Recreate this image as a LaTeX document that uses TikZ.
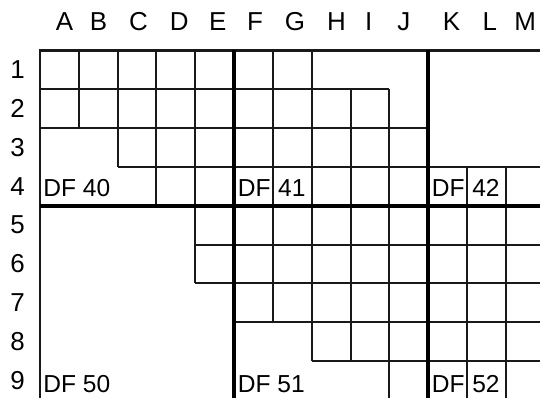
\documentclass[tikz,border=0pt]{standalone}
\usepackage{fontspec}
\setmainfont{Liberation Sans}

\begin{document}
\begin{tikzpicture}[
        thin line/.style={draw=black!90, line width=1.4pt},
        thick line/.style={draw=black, line width=3pt},
        head/.style={font=\fontsize{19}{21}\selectfont, inner sep=0pt},
        df/.style={font=\fontsize{18}{20}\selectfont, inner sep=0pt, anchor=base west}
    ]
    \useasboundingbox (-1.03,1.30) rectangle (12.88,-8.95);
    \clip (-1.03,1.30) rectangle (12.88,-8.95);

    % --- Column and row labels ---
    \foreach \c/\x in {A/0.63, B/1.51, C/2.54, D/3.59, E/4.58, F/5.54, G/6.57,
                       H/7.64, I/8.47, J/9.37, K/10.6, L/11.59, M/12.5}
        \node[head, anchor=base] (col\c) at (\x,0.52) {\c};
    \foreach \r in {1,...,9}
        \node[head] (row\r) at (-0.58,0.5-\r) {\r};

    % --- Thin cell lines ---
    % 横线
    \draw[thin line] (0,-1) -- (9,-1);
    \draw[thin line] (0,-2) -- (10,-2);
    \draw[thin line] (2,-3) -- (13,-3);
    \draw[thin line] (4,-5) -- (13,-5);
    \draw[thin line] (4,-6) -- (13,-6);
    \draw[thin line] (5,-7) -- (13,-7);
    \draw[thin line] (7,-8) -- (13,-8);
    % 竖线
    \draw[thin line] (1,0) -- (1,-2);
    \draw[thin line] (2,0) -- (2,-3);
    \draw[thin line] (3,0) -- (3,-4);
    \draw[thin line] (4,0) -- (4,-6);
    \draw[thin line] (6,0) -- (6,-7);
    \draw[thin line] (7,0) -- (7,-8);
    \draw[thin line] (8,-1) -- (8,-8);
    \draw[thin line] (9,-1) -- (9,-9);
    \draw[thin line] (11,-3) -- (11,-9);
    \draw[thin line] (12,-3) -- (12,-9);

    % --- Border and block lines ---
    \draw[thin line, line width=1.6pt] (0,0) rectangle (13,-9);
    \draw[thick line] (5,0) -- (5,-9);
    \draw[thick line] (10,0) -- (10,-9);
    \draw[thick line] (0,-4) -- (13,-4);

    % --- Block labels ---
    \node[df] (df40) at (0.08,-3.76) {DF 40};
    \node[df] (df41) at (5.09,-3.76) {DF};
    \node[df] (df41n) at (6.13,-3.76) {41};
    \node[df] (df42) at (10.09,-3.76) {DF};
    \node[df] (df42n) at (11.13,-3.76) {42};
    \node[df] (df50) at (0.08,-8.82) {DF 50};
    \node[df] (df51) at (5.09,-8.82) {DF 51};
    \node[df] (df52) at (10.09,-8.82) {DF};
    \node[df] (df52n) at (11.13,-8.82) {52};
\end{tikzpicture}
\end{document}
